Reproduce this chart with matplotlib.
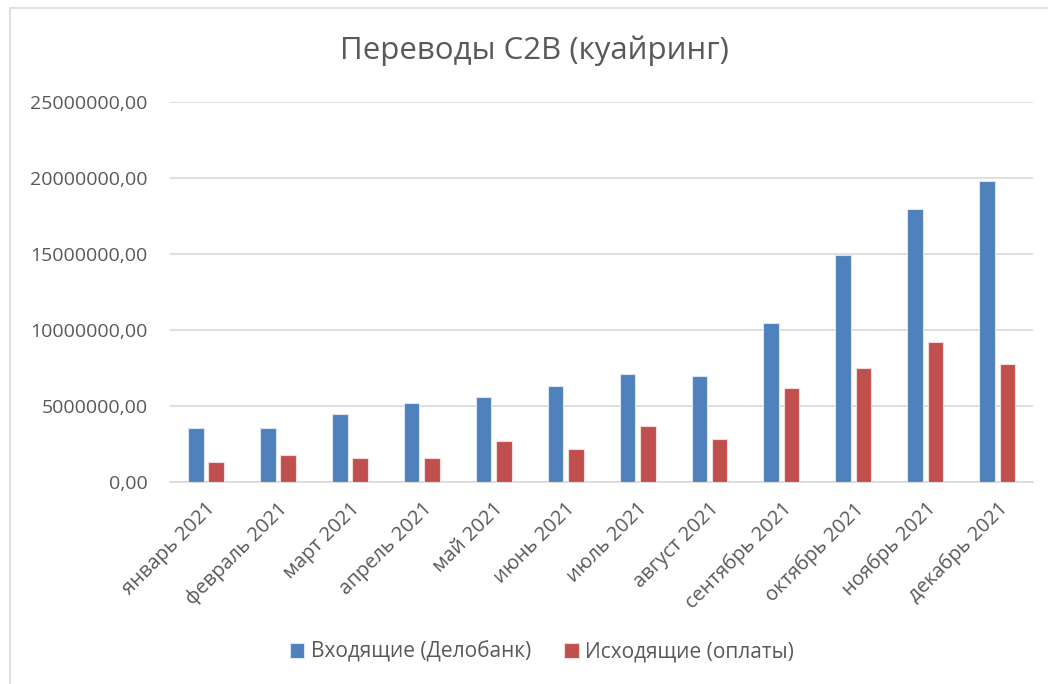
import matplotlib.pyplot as plt
import numpy as np
from matplotlib.patches import Rectangle

plt.rcParams['font.family'] = ['Open Sans', 'DejaVu Sans']

months = ['январь 2021', 'февраль 2021', 'март 2021', 'апрель 2021', 'май 2021',
          'июнь 2021', 'июль 2021', 'август 2021', 'сентябрь 2021', 'октябрь 2021',
          'ноябрь 2021', 'декабрь 2021']
incoming = [3580000, 3580000, 4450000, 5200000, 5570000, 6340000,
            7090000, 6950000, 10490000, 14910000, 17940000, 19830000]
outgoing = [1300000, 1800000, 1560000, 1560000, 2680000, 2170000,
            3680000, 2810000, 6210000, 7480000, 9240000, 7740000]
yticks = [0, 5000000, 10000000, 15000000, 20000000, 25000000]

txt = '#595959'
fig = plt.figure(figsize=(10.48, 6.84), dpi=100)
ax = fig.add_axes([0.162, 0.2953, 0.824, 0.5556])

x = np.arange(len(months))
w = 0.22
ax.bar(x - 0.14, incoming, w, color='#4F81BD', edgecolor='#DCE6F2', linewidth=0.8,
       label='Входящие (Делобанк)', zorder=3)
ax.bar(x + 0.14, outgoing, w, color='#C0504D', edgecolor='#F2DCDB', linewidth=0.8,
       label='Исходящие (оплаты)', zorder=3)

ax.set_xlim(-0.5, len(months) - 0.5)
ax.set_ylim(0, 25000000)
ax.set_yticks(yticks)
ax.set_yticklabels(['%d,00' % v for v in yticks])
ax.grid(axis='y', color='#D9D9D9', linewidth=1.2, zorder=0)
for s in ['top', 'right', 'left']:
    ax.spines[s].set_visible(False)
ax.spines['bottom'].set_color('#D9D9D9')
ax.spines['bottom'].set_linewidth(1.2)
ax.tick_params(axis='both', length=0, colors=txt, labelsize=14)
ax.tick_params(axis='y', pad=16)
ax.set_xticks(x)
ax.set_xticklabels(months, rotation=45, ha='right', rotation_mode='anchor')
ax.tick_params(axis='x', pad=12, labelsize=14.5)

fig.suptitle('Переводы C2B (куайринг)', x=0.51, y=0.948, fontsize=22.5, color=txt)

leg = fig.legend(loc='center', bbox_to_anchor=(0.517, 0.047), ncol=2, frameon=False,
                 fontsize=15, handlelength=0.7, handleheight=0.7, columnspacing=1.6,
                 handletextpad=0.3)
for t in leg.get_texts():
    t.set_color(txt)

# chart border
fig.patches.append(Rectangle((10 / 1048, -0.1), 1.2, (684 - 8) / 684 + 0.1,
                             transform=fig.transFigure, fill=False,
                             edgecolor='#D9D9D9', linewidth=1.2))

fig.savefig('out.png', dpi=100)
